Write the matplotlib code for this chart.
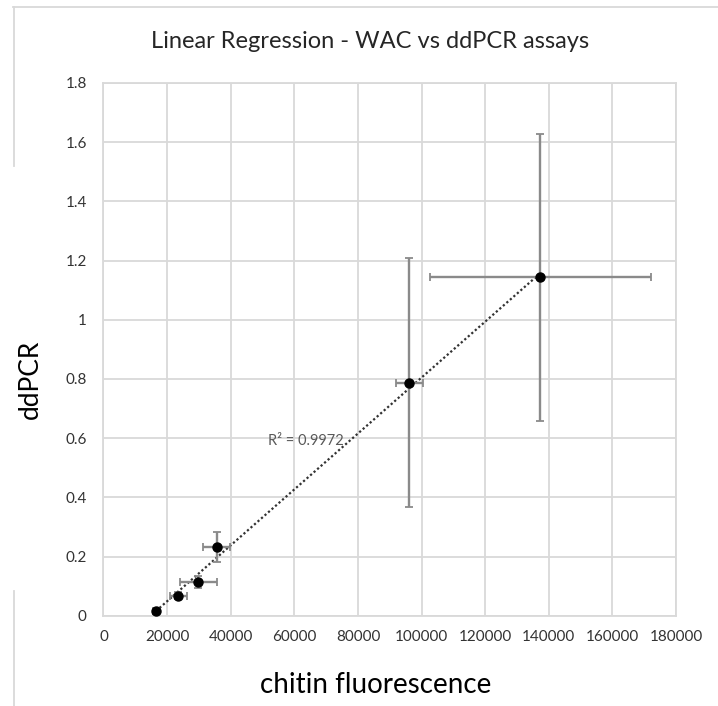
import numpy as np
import matplotlib
matplotlib.use("Agg")
import matplotlib.pyplot as plt
from matplotlib.lines import Line2D

plt.rcParams['font.family'] = ['Lato', 'DejaVu Sans']

# Mean chitin fluorescence (WAC) vs ddPCR, with standard deviations
chitin = [16500, 23500, 29800, 35600, 96200, 137300]
ddpcr = [0.016, 0.067, 0.115, 0.233, 0.787, 1.143]
chitin_sd = [800, 2600, 5900, 4300, 4350, 34700]
ddpcr_sd = [0.005, 0.012, 0.02, 0.05, 0.42, 0.485]
x_ticks = [0, 20000, 40000, 60000, 80000, 100000, 120000, 140000, 160000, 180000]
y_ticks = [0, 0.2, 0.4, 0.6, 0.8, 1.0, 1.2, 1.4, 1.6, 1.8]
y_tick_labels = ['0', '0.2', '0.4', '0.6', '0.8', '1', '1.2', '1.4', '1.6', '1.8']
r2_label = 'R² = 0.9972'

W, H = 718, 706
fig = plt.figure(figsize=(W / 100, H / 100), dpi=100)
ax = fig.add_axes([103.5 / W, 1 - 615.7 / H, 572.5 / W, 532.7 / H])

grid_c = '#d9d9d9'
ax.set_xlim(0, 180000)
ax.set_ylim(0, 1.8)
ax.set_xticks(x_ticks)
ax.set_xticklabels([str(t) for t in x_ticks])
ax.set_yticks(y_ticks)
ax.set_yticklabels(y_tick_labels)
ax.grid(True, color=grid_c, lw=1.3)
ax.set_axisbelow(True)
for s in ax.spines.values():
    s.set_color(grid_c)
    s.set_linewidth(1.3)
ax.tick_params(length=0, labelsize=11, labelcolor='#333333')
ax.tick_params(axis='x', pad=10)
ax.tick_params(axis='y', pad=12)

# Linear trendline across the data range
slope, icpt = np.polyfit(chitin, ddpcr, 1)
xs = np.array([min(chitin), max(chitin)])
ax.plot(xs, slope * xs + icpt, color='#333333', lw=1.6,
        linestyle=(0, (1, 1.1)), zorder=2)

ax.errorbar(chitin, ddpcr, xerr=chitin_sd, yerr=ddpcr_sd, fmt='o',
            color='black', ms=6.5, ecolor='#8a8a8a', elinewidth=1.7,
            capsize=3, capthick=1.3, zorder=3)

ax.text(63500, 0.59, r2_label, ha='center', va='center', fontsize=10.5,
        color='#595959')

ax.set_xlabel('chitin fluorescence', fontsize=20, color='black')
ax.xaxis.set_label_coords((376 - 103.5) / 572.5, -(685 - 615.7) / 532.7)
ax.xaxis.label.set_va('center')
ax.set_ylabel('ddPCR', fontsize=19, color='black')
ax.yaxis.set_label_coords((30 - 103.5) / 572.5, (615.7 - 379) / 532.7)
ax.yaxis.label.set_va('center')

fig.text(370 / W, 1 - 42 / H, 'Linear Regression - WAC vs ddPCR assays',
         ha='center', va='center', fontsize=17, color='#262626')

# Chart frame remnants
for xy in [((13, 718), (7, 7)), ((14, 14), (7, 166)), ((14, 14), (591, 706))]:
    fig.add_artist(Line2D([v / W for v in xy[0]], [1 - v / H for v in xy[1]],
                          color=grid_c, lw=1.3))

fig.savefig('out.png', dpi=100)
